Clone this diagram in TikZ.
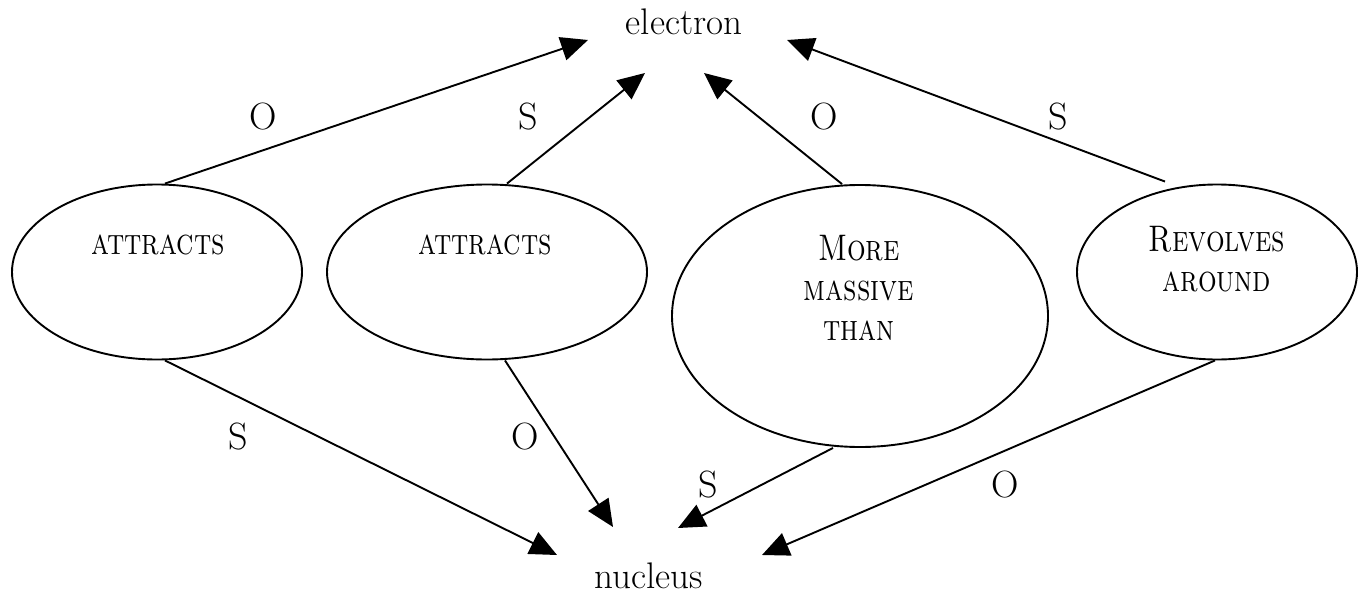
\documentclass[tikz,border=0pt]{standalone}
\usetikzlibrary{shapes.geometric,arrows.meta}
\usepackage{graphicx}
\newcommand{\rline}[1]{\scalebox{0.89}[1.12]{#1}}
\begin{document}
\begin{tikzpicture}[x=1pt,y=-1pt,
  rel/.style={draw,line width=1.9pt,ellipse,inner sep=0pt},
  reltext/.style={font=\fontsize{33}{40}\selectfont\scshape,align=center,inner sep=0pt},
  concept/.style={font=\fontsize{37}{40}\selectfont,inner sep=0pt,anchor=base},
  role/.style={font=\fontsize{38}{40}\selectfont,inner sep=0pt},
  arr/.style={line width=1.9pt,-{Triangle[length=27pt,width=24pt]}}]
\useasboundingbox (0,0) rectangle (1359,594);
% concepts
\node[concept] (el) at (684,35) {electron};
\node[concept] (nu) at (649,588) {nucleus};
% relation ellipses
\node[rel,minimum width=290pt,minimum height=175pt] (e1) at (157,272) {};
\node[rel,minimum width=320pt,minimum height=175pt] (e2) at (487,272) {};
\node[rel,minimum width=376pt,minimum height=262pt] (e3) at (860,316) {};
\node[rel,minimum width=280pt,minimum height=175pt] (e4) at (1217,272) {};
\node[reltext] (l1) at (158,245) {\rline{attracts}};
\node[reltext] (l2) at (485,245) {\rline{attracts}};
\node[reltext] (l3) at (859,288) {\rline{More}\\\rline{massive}\\\rline{than}};
\node[reltext] (l4) at (1217,259) {\rline{Revolves}\\\rline{around}};
% arrow tips
\coordinate (t1) at (588,40);
\coordinate (t2) at (645,73);
\coordinate (t3) at (704,73);
\coordinate (t4) at (787,40);
\coordinate (b1) at (557,555);
\coordinate (b2) at (613,527);
\coordinate (b3) at (678,528);
\coordinate (b4) at (762,555);
% edges to electron
\draw[arr] ([xshift=8pt]e1.north) -- (t1);
\draw[arr] ([xshift=20pt]e2.north) -- (t2);
\draw[arr] ([xshift=-18pt]e3.north) -- (t3);
\draw[arr] ([xshift=-52pt,yshift=2pt]e4.north) -- (t4);
% edges to nucleus
\draw[arr] ([xshift=8pt]e1.south) -- (b1);
\draw[arr] ([xshift=18pt]e2.south) -- (b2);
\draw[arr] ([xshift=-27pt]e3.south) -- (b3);
\draw[arr] ([xshift=-2pt]e4.south) -- (b4);
% role labels
\node[role] (r1) at (263,117) {O};
\node[role] (r2) at (528,117) {S};
\node[role] (r3) at (824,117) {O};
\node[role] (r4) at (1058,117) {S};
\node[role] (r5) at (238,437) {S};
\node[role] (r6) at (525,437) {O};
\node[role] (r7) at (708,485) {S};
\node[role] (r8) at (1005,485) {O};
\end{tikzpicture}
\end{document}
